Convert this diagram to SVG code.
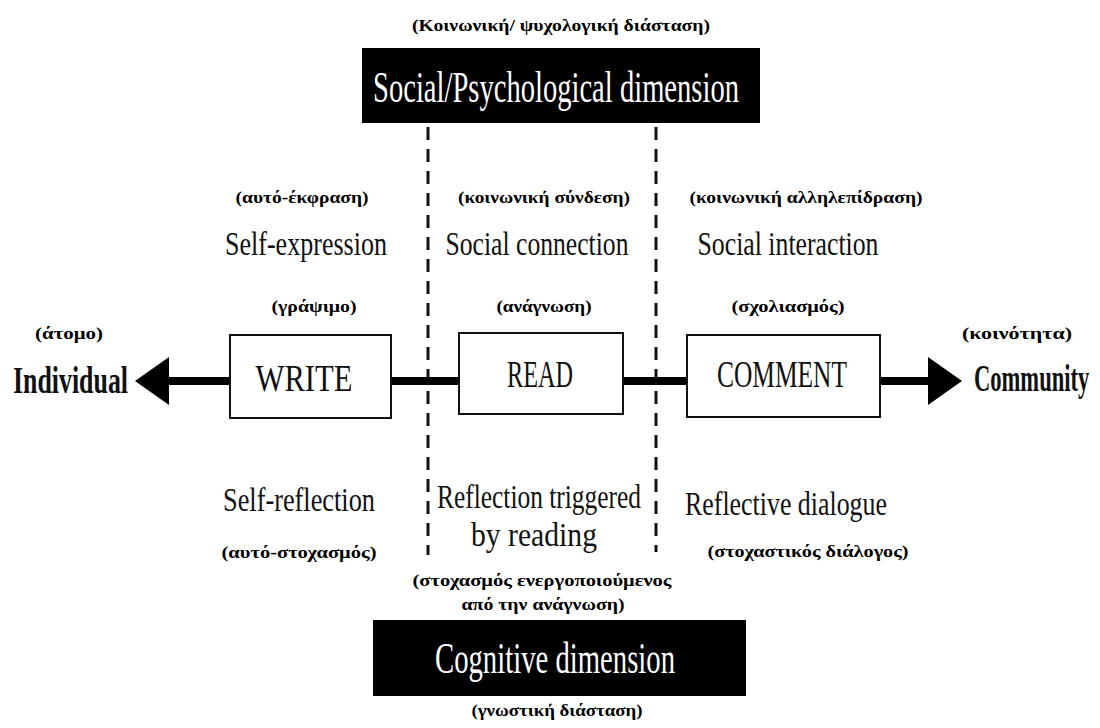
<svg xmlns="http://www.w3.org/2000/svg" width="1100" height="728" viewBox="0 0 1100 728">
  <style>
    .gr { font-family: "Liberation Serif", "DejaVu Serif", serif; font-weight: bold; font-size: 17.5px; fill: #000; }
    .en { font-family: "Liberation Serif", "DejaVu Serif", serif; font-size: 33px; fill: #111; }
    .box { fill: #fff; stroke: #111; stroke-width: 2; }
    .boxtxt { font-family: "Liberation Serif", "DejaVu Serif", serif; font-size: 37px; fill: #111; }
    .dim { fill: #000; }
    .dimtxt { font-family: "Liberation Serif", "DejaVu Serif", serif; font-size: 45px; fill: #fff; }
    .pole { font-family: "Liberation Serif", "DejaVu Serif", serif; font-weight: bold; font-size: 37px; fill: #111; }
    .axis { stroke: #000; stroke-width: 8; fill: none; }
    .dash { stroke: #111; stroke-width: 3; stroke-dasharray: 13 9; fill: none; }
  </style>
  <defs>
    <marker id="arrow" viewBox="0 -24 34 48" refX="0" refY="0" markerWidth="34" markerHeight="48" markerUnits="userSpaceOnUse" orient="auto">
      <path d="M0,-24 L34,0 L0,24 Z" fill="#000"/>
    </marker>
  </defs>
  <rect width="1100" height="728" fill="#fff"/>

  <g id="connectors">
    <line class="dash" x1="428" y1="127" x2="428" y2="555"/>
    <line class="dash" x1="656" y1="127" x2="656" y2="552"/>
    <line class="axis" x1="230" y1="381" x2="169" y2="381" marker-end="url(#arrow)"/>
    <line class="axis" x1="391" y1="381" x2="459" y2="381"/>
    <line class="axis" x1="623" y1="381" x2="687" y2="381"/>
    <line class="axis" x1="880" y1="381" x2="928" y2="381" marker-end="url(#arrow)"/>
  </g>

  <g id="social-dimension">
    <text class="gr" x="561" y="31" text-anchor="middle" textLength="298" lengthAdjust="spacingAndGlyphs">(Κοινωνική/ ψυχολογική διάσταση)</text>
    <rect class="dim" x="362" y="48" width="398" height="75"/>
    <text class="dimtxt" x="556" y="102" text-anchor="middle" textLength="366" lengthAdjust="spacingAndGlyphs">Social/Psychological dimension</text>
  </g>

  <g id="individual">
    <text class="gr" x="69" y="339" text-anchor="middle" textLength="68" lengthAdjust="spacingAndGlyphs">(άτομο)</text>
    <text class="pole" x="13" y="393" textLength="115" lengthAdjust="spacingAndGlyphs">Individual</text>
  </g>

  <g id="community">
    <text class="gr" x="1017" y="339" text-anchor="middle" textLength="110" lengthAdjust="spacingAndGlyphs">(κοινότητα)</text>
    <text class="pole" transform="translate(974,391) scale(0.61,1)" x="0" y="0">Community</text>
  </g>

  <g id="write">
    <text class="gr" x="302" y="203" text-anchor="middle" textLength="133" lengthAdjust="spacingAndGlyphs">(αυτό-έκφραση)</text>
    <text class="en" x="306" y="255" text-anchor="middle" textLength="162" lengthAdjust="spacingAndGlyphs">Self-expression</text>
    <text class="gr" x="314" y="312" text-anchor="middle" textLength="85" lengthAdjust="spacingAndGlyphs">(γράψιμο)</text>
    <rect class="box" x="230" y="335" width="161" height="83"/>
    <text class="boxtxt" x="304" y="391" text-anchor="middle" textLength="97" lengthAdjust="spacingAndGlyphs">WRITE</text>
    <text class="en" x="299" y="511" text-anchor="middle" textLength="152" lengthAdjust="spacingAndGlyphs">Self-reflection</text>
    <text class="gr" x="299" y="558" text-anchor="middle" textLength="155" lengthAdjust="spacingAndGlyphs">(αυτό-στοχασμός)</text>
  </g>

  <g id="read">
    <text class="gr" x="544" y="203" text-anchor="middle" textLength="172" lengthAdjust="spacingAndGlyphs">(κοινωνική σύνδεση)</text>
    <text class="en" x="537" y="255" text-anchor="middle" textLength="183" lengthAdjust="spacingAndGlyphs">Social connection</text>
    <text class="gr" x="544" y="312" text-anchor="middle" textLength="95" lengthAdjust="spacingAndGlyphs">(ανάγνωση)</text>
    <rect class="box" x="459" y="333" width="164" height="81"/>
    <text class="boxtxt" x="540" y="387" text-anchor="middle" textLength="66" lengthAdjust="spacingAndGlyphs">READ</text>
    <text class="en" x="539" y="508" text-anchor="middle" textLength="204" lengthAdjust="spacingAndGlyphs">Reflection triggered</text>
    <text class="en" x="534" y="546" text-anchor="middle" textLength="126" lengthAdjust="spacingAndGlyphs">by reading</text>
    <text class="gr" x="542" y="586" text-anchor="middle" textLength="259" lengthAdjust="spacingAndGlyphs">(στοχασμός ενεργοποιούμενος</text>
    <text class="gr" x="543" y="610" text-anchor="middle" textLength="163" lengthAdjust="spacingAndGlyphs">από την ανάγνωση)</text>
  </g>

  <g id="comment">
    <text class="gr" x="806" y="203" text-anchor="middle" textLength="233" lengthAdjust="spacingAndGlyphs">(κοινωνική αλληλεπίδραση)</text>
    <text class="en" x="788" y="255" text-anchor="middle" textLength="181" lengthAdjust="spacingAndGlyphs">Social interaction</text>
    <text class="gr" x="788" y="312" text-anchor="middle" textLength="113" lengthAdjust="spacingAndGlyphs">(σχολιασμός)</text>
    <rect class="box" x="687" y="335" width="193" height="82"/>
    <text class="boxtxt" x="782" y="387" text-anchor="middle" textLength="130" lengthAdjust="spacingAndGlyphs">COMMENT</text>
    <text class="en" x="786" y="515" text-anchor="middle" textLength="202" lengthAdjust="spacingAndGlyphs">Reflective dialogue</text>
    <text class="gr" x="808" y="557" text-anchor="middle" textLength="201" lengthAdjust="spacingAndGlyphs">(στοχαστικός διάλογος)</text>
  </g>

  <g id="cognitive-dimension">
    <rect class="dim" x="373" y="620" width="373" height="76"/>
    <text class="dimtxt" x="555" y="673" text-anchor="middle" textLength="240" lengthAdjust="spacingAndGlyphs">Cognitive dimension</text>
    <text class="gr" x="557" y="716" text-anchor="middle" textLength="171" lengthAdjust="spacingAndGlyphs">(γνωστική διάσταση)</text>
  </g>
</svg>
